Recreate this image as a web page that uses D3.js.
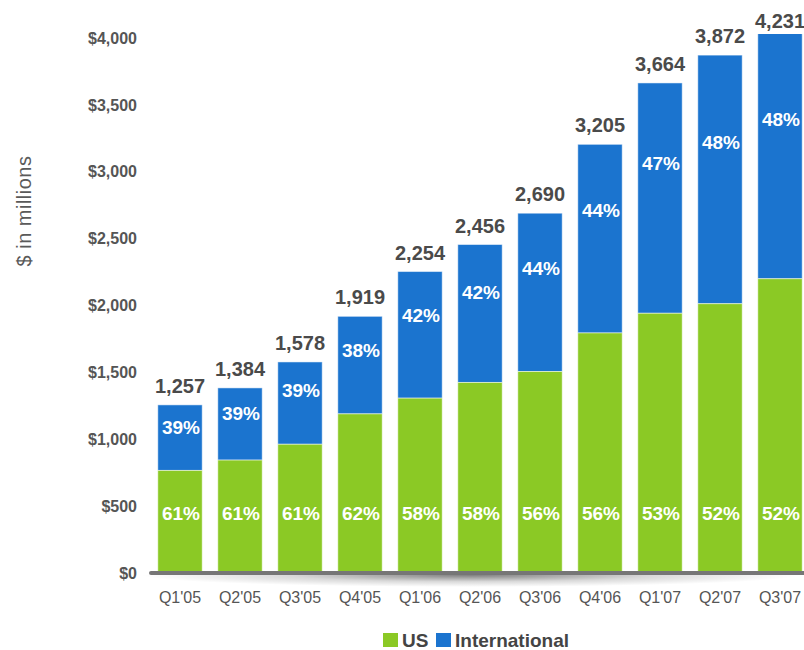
<!DOCTYPE html>
<html lang="en">
<head>
    <meta charset="UTF-8">
    <title>Revenue US vs International</title>
    <script src="https://d3js.org/d3.v7.min.js"></script>
    <style>
        body {
            margin: 0;
            padding: 0;
            background: #fff;
            font-family: 'Liberation Sans', Arial, sans-serif;
        }
        svg {
            display: block;
        }
        .y-axis text {
            font-size: 16px;
            font-weight: bold;
            fill: #555;
        }
        .x-axis text {
            font-size: 16px;
            fill: #555;
        }
        .total-label {
            font-size: 20px;
            font-weight: bold;
            fill: #4a4a4a;
            text-anchor: middle;
        }
        .pct-label {
            font-size: 19px;
            font-weight: bold;
            fill: #fff;
            text-anchor: middle;
            dominant-baseline: central;
        }
        .legend text {
            font-size: 19px;
            font-weight: bold;
            fill: #444;
            dominant-baseline: central;
        }
    </style>
</head>
<body>
    <div id="chart"></div>

    <script>
        const quarters = ["Q1'05", "Q2'05", "Q3'05", "Q4'05", "Q1'06", "Q2'06", "Q3'06", "Q4'06", "Q1'07", "Q2'07", "Q3'07"];
        const totals = [1257, 1384, 1578, 1919, 2254, 2456, 2690, 3205, 3664, 3872, 4231];
        const usPct = [61, 61, 61, 62, 58, 58, 56, 56, 53, 52, 52];
        const intlPct = [39, 39, 39, 38, 42, 42, 44, 44, 47, 48, 48];
        const yTicks = [0, 500, 1000, 1500, 2000, 2500, 3000, 3500, 4000];

        const green = "#8bc925";
        const blue = "#1b74cf";

        const width = 804, height = 650;

        const svg = d3.select("#chart")
            .append("svg")
            .attr("width", width)
            .attr("height", height);

        const defs = svg.append("defs");

        // plot area clip (the tallest bar runs past the top)
        defs.append("clipPath")
            .attr("id", "plot-clip")
            .append("rect")
            .attr("x", 0)
            .attr("y", 34)
            .attr("width", width)
            .attr("height", 600);

        defs.append("clipPath")
            .attr("id", "shadow-clip")
            .append("rect")
            .attr("x", 0)
            .attr("y", 575)
            .attr("width", width)
            .attr("height", 30);

        const shadow = defs.append("radialGradient")
            .attr("id", "axis-shadow")
            .attr("cx", "50%").attr("cy", "50%")
            .attr("r", "50%");
        shadow.append("stop").attr("offset", "0%").attr("stop-color", "#000").attr("stop-opacity", 0.5);
        shadow.append("stop").attr("offset", "55%").attr("stop-color", "#000").attr("stop-opacity", 0.15);
        shadow.append("stop").attr("offset", "100%").attr("stop-color", "#000").attr("stop-opacity", 0);

        const x = d3.scaleBand()
            .domain(quarters)
            .range([150, 810])
            .paddingInner(0.26)
            .paddingOuter(0.13);

        const y = d3.scaleLinear()
            .domain([0, 4000])
            .range([573, 38]);

        const data = quarters.map((q, i) => ({
            quarter: q,
            total: totals[i],
            us: totals[i] * usPct[i] / 100,
            usPct: usPct[i],
            intlPct: intlPct[i]
        }));

        // y axis title
        svg.append("text")
            .attr("transform", "translate(31,211) rotate(-90)")
            .attr("text-anchor", "middle")
            .style("font-size", "20px")
            .style("letter-spacing", "0.5px")
            .style("fill", "#5a5a5a")
            .text("$ in millions");

        // y axis
        const yAxis = svg.append("g")
            .attr("class", "y-axis")
            .attr("transform", "translate(137,0)")
            .call(d3.axisLeft(y)
                .tickValues(yTicks)
                .tickSize(0)
                .tickPadding(0)
                .tickFormat(d => "$" + d3.format(",")(d)));
        yAxis.select(".domain").remove();
        yAxis.selectAll("text").style("font-family", "'Liberation Sans', Arial, sans-serif");

        // soft shadow under the baseline
        svg.append("ellipse")
            .attr("clip-path", "url(#shadow-clip)")
            .attr("cx", 470)
            .attr("cy", 575)
            .attr("rx", 330)
            .attr("ry", 12)
            .attr("fill", "url(#axis-shadow)");

        // bars
        const plot = svg.append("g").attr("clip-path", "url(#plot-clip)");

        const bar = plot.selectAll("g.bar")
            .data(data)
            .join("g")
            .attr("class", "bar");

        bar.append("rect")
            .attr("x", d => x(d.quarter))
            .attr("width", x.bandwidth())
            .attr("y", d => y(d.total))
            .attr("height", d => y(d.us) - y(d.total))
            .attr("fill", blue)
            .attr("stroke", "#fff")
            .attr("stroke-opacity", 0.5)
            .attr("stroke-width", 1);

        bar.append("rect")
            .attr("x", d => x(d.quarter))
            .attr("width", x.bandwidth())
            .attr("y", d => y(d.us))
            .attr("height", d => y(0) - y(d.us))
            .attr("fill", green)
            .attr("stroke", "#fff")
            .attr("stroke-opacity", 0.5)
            .attr("stroke-width", 1);

        // axis baseline
        svg.append("line")
            .attr("x1", 151)
            .attr("x2", width + 5)
            .attr("y1", y(0))
            .attr("y2", y(0))
            .attr("stroke", "#767676")
            .attr("stroke-width", 4)
            .attr("stroke-linecap", "round");

        // percentage labels
        const clipTop = 34;
        svg.selectAll("text.intl")
            .data(data)
            .join("text")
            .attr("class", "pct-label intl")
            .attr("x", d => x(d.quarter) + x.bandwidth() / 2 + 1)
            .attr("y", d => {
                const top = Math.max(y(d.total), clipTop);
                return top + 0.35 * (y(d.us) - top);
            })
            .text(d => d.intlPct + "%");

        svg.selectAll("text.us")
            .data(data)
            .join("text")
            .attr("class", "pct-label us")
            .attr("x", d => x(d.quarter) + x.bandwidth() / 2 + 1)
            .attr("y", y(0) - 60)
            .text(d => d.usPct + "%");

        // totals above bars
        svg.selectAll("text.total-label")
            .data(data)
            .join("text")
            .attr("class", "total-label")
            .attr("x", d => x(d.quarter) + x.bandwidth() / 2)
            .attr("y", d => Math.max(y(d.total) - 12, 28))
            .text(d => d3.format(",")(d.total));

        // x axis labels
        const xAxis = svg.append("g")
            .attr("class", "x-axis")
            .attr("transform", `translate(0,${y(0)})`)
            .call(d3.axisBottom(x).tickSize(0).tickPadding(19));
        xAxis.select(".domain").remove();
        xAxis.selectAll("text").style("font-family", "'Liberation Sans', Arial, sans-serif");

        // legend
        const legendItems = [
            { name: "US", color: green, x: 383 },
            { name: "International", color: blue, x: 436 }
        ];
        const legend = svg.append("g").attr("class", "legend");
        const item = legend.selectAll("g")
            .data(legendItems)
            .join("g")
            .attr("transform", d => `translate(${d.x},640)`);
        item.append("rect")
            .attr("x", 0)
            .attr("y", -7)
            .attr("width", 15)
            .attr("height", 14)
            .attr("fill", d => d.color);
        item.append("text")
            .attr("x", 19)
            .attr("y", 0)
            .text(d => d.name);
    </script>
</body>
</html>
